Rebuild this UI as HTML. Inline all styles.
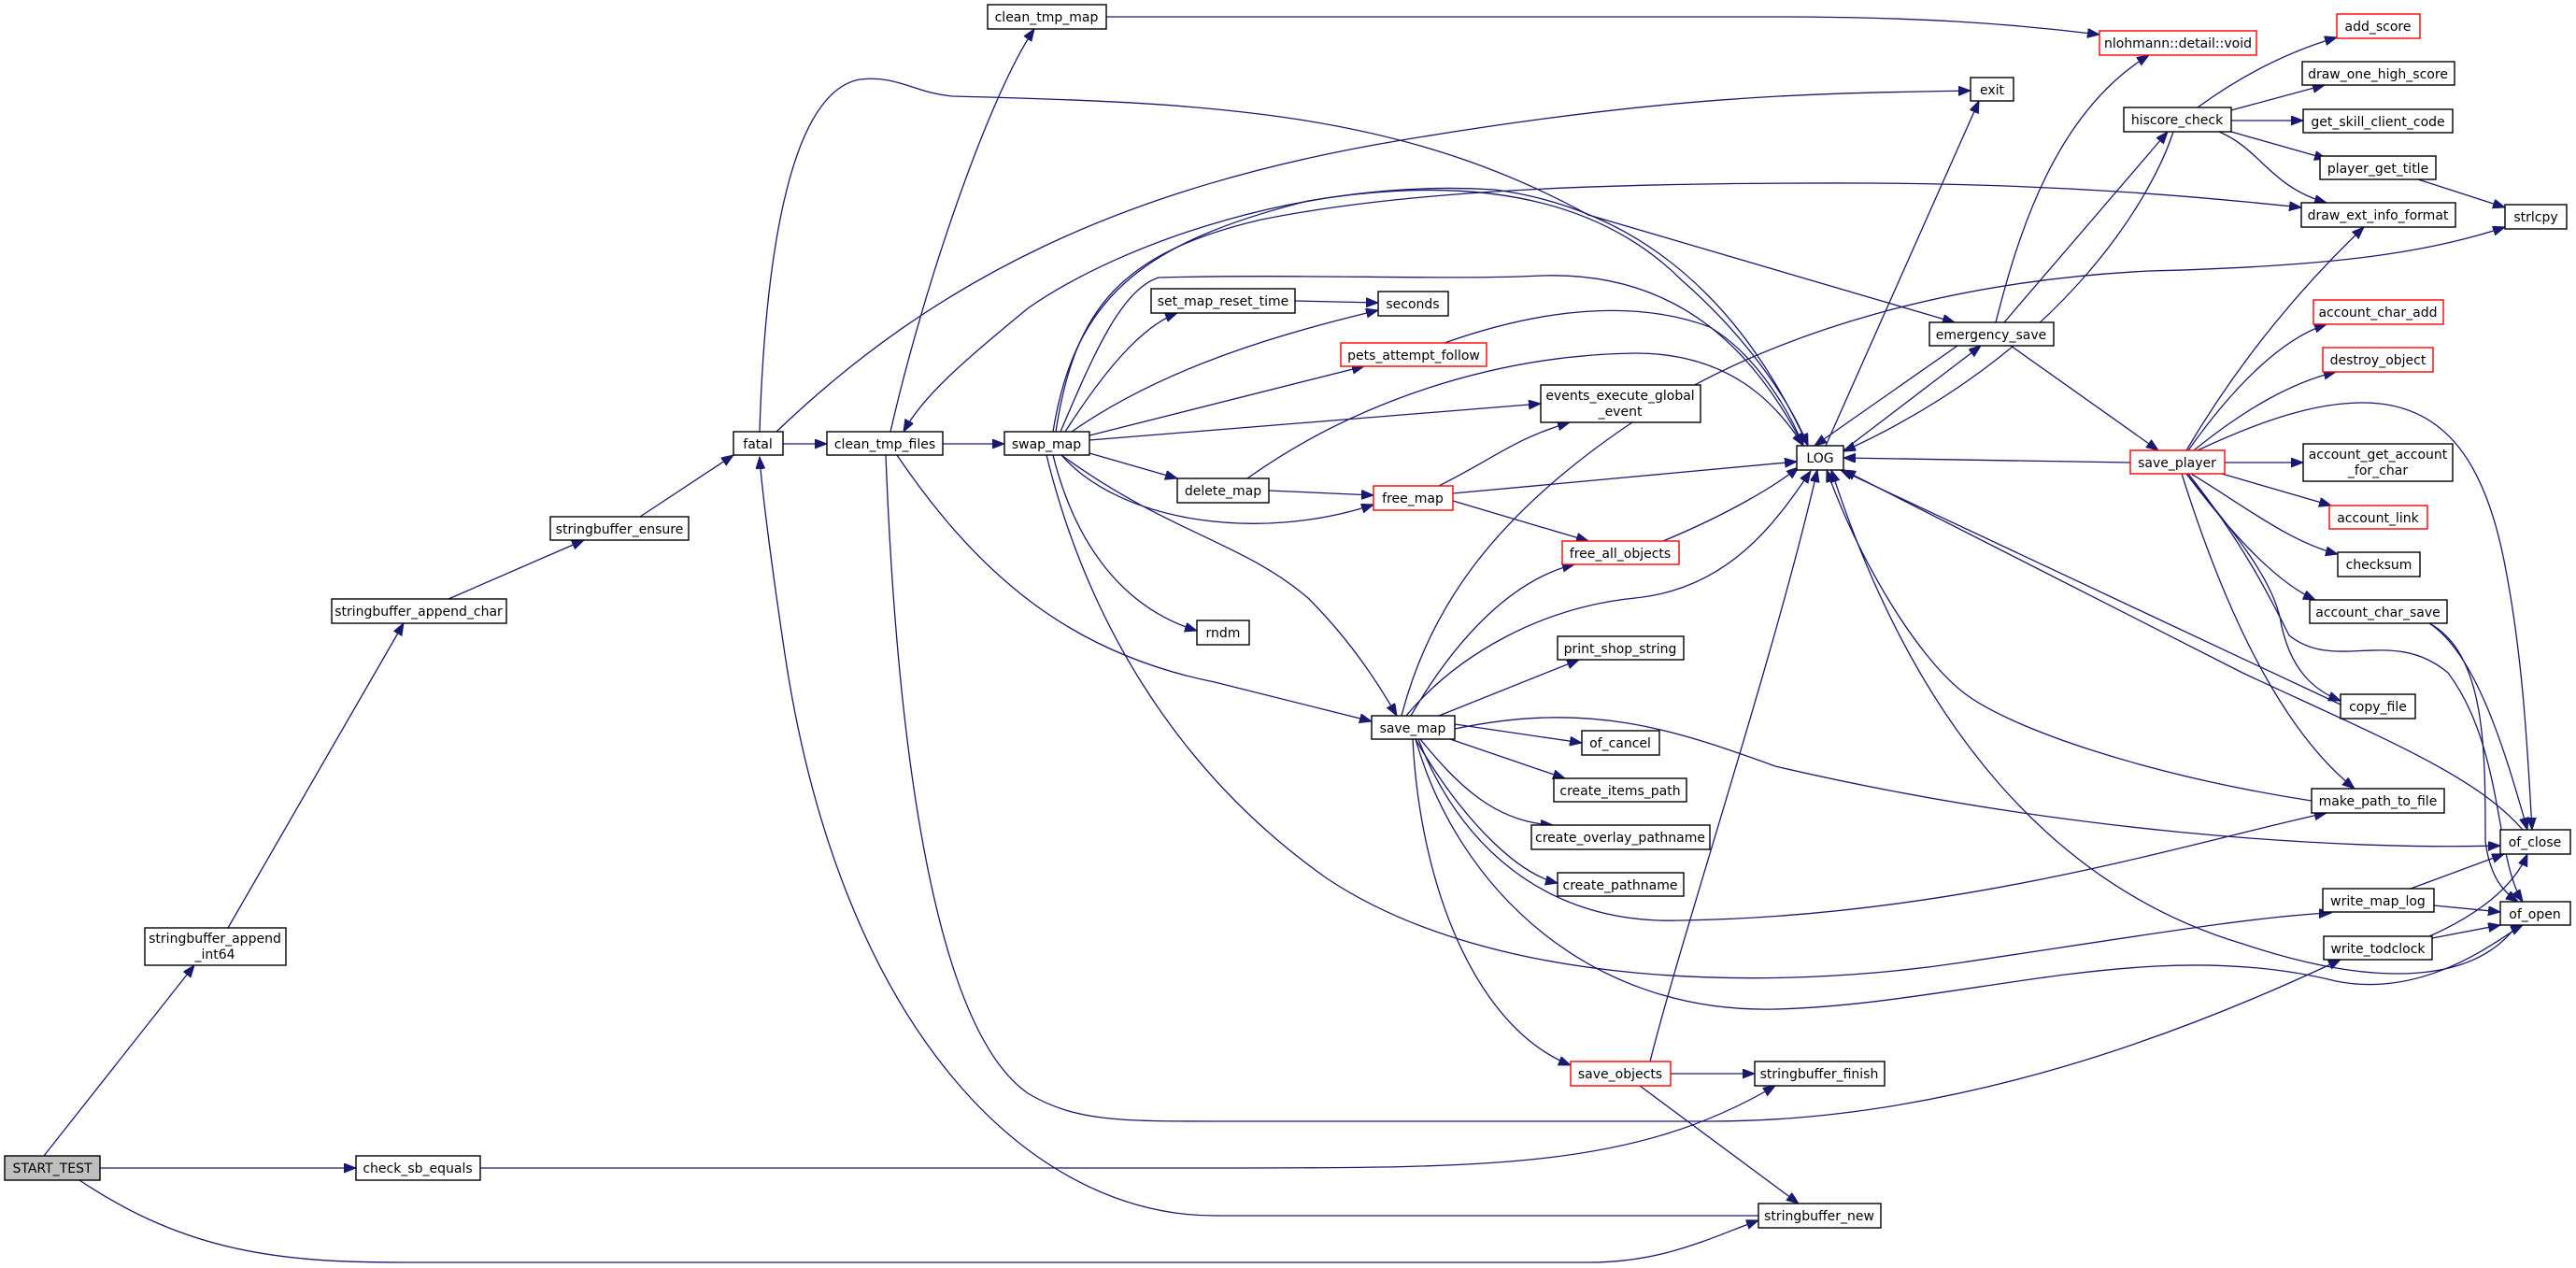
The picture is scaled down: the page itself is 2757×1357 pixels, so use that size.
<!DOCTYPE html>
<html><head><meta charset="utf-8"><style>
html,body{margin:0;padding:0;background:#fff;}
svg{display:block;}
text{font-family:"DejaVu Sans","Liberation Sans",sans-serif;font-size:14px;fill:#000;}
.n{fill:#fff;stroke:#000;stroke-width:1.4;}
.r{fill:#fff;stroke:#ff0000;stroke-width:1.4;}
.g{fill:#bfbfbf;stroke:#000;stroke-width:1.4;}
.e{fill:none;stroke:#191970;stroke-width:1.3;marker-end:url(#a);}
</style></head><body>
<svg width="2757" height="1357" viewBox="0 0 2757 1357" xmlns="http://www.w3.org/2000/svg">
<defs><marker id="a" markerUnits="userSpaceOnUse" markerWidth="14" markerHeight="12" refX="13" refY="5" orient="auto"><path d="M0,0 L13,5 L0,10 z" fill="#191970" stroke="#191970"/></marker></defs>
<g>
<path class="e" d="M47,1237 L208,1033"/>
<path class="e" d="M107,1250 L381,1250"/>
<path class="e" d="M85,1263 C200,1340 300,1351 430,1351 L1700,1351 C1780,1351 1830,1325 1882,1306"/>
<path class="e" d="M244,993 L432,667"/>
<path class="e" d="M480,641 L625,578"/>
<path class="e" d="M685,553 L785,487"/>
<path class="e" d="M838,475 L885,475"/>
<path class="e" d="M831,462 C1000,300 1200,200 1500,150 S1950,100 2109,97"/>
<path class="e" d="M813,462 C818,300 840,100 920,85 C960,80 980,100 1020,103 C1300,110 1500,120 1700,230 L2092,345"/>
<path class="e" d="M953,462 C990,300 1060,100 1107,31"/>
<path class="e" d="M1009,475 L1075,475"/>
<path class="e" d="M960,487 C1050,620 1150,700 1300,730 C1380,750 1430,762 1468,772"/>
<path class="e" d="M948,487 C960,800 1000,1100 1100,1170 C1150,1200 1200,1200 1300,1200 L1830,1200 C2100,1200 2350,1100 2505,1027"/>
<path class="e" d="M1882,1301 L1300,1301 C1100,1301 900,1100 840,700 C825,600 815,520 813,489"/>
<path class="e" d="M1184,18 L1900,18 C2050,18 2150,25 2247,37"/>
<path class="e" d="M1935,477 C1890,380 1800,230 1600,203 C1400,190 1200,260 1100,330 C1040,380 990,420 967,462"/>
<path class="e" d="M1130,462 C1150,330 1200,270 1350,235 C1500,205 1700,195 2000,196 C2200,197 2350,210 2463,222"/>
<path class="e" d="M1127,462 C1150,320 1220,260 1400,215 C1550,190 1700,200 1800,300 C1880,370 1920,440 1935,477"/>
<path class="e" d="M1135,462 C1170,380 1200,310 1240,297 C1400,293 1550,300 1650,295 C1800,290 1880,380 1930,477"/>
<path class="e" d="M1140,462 C1180,400 1220,350 1260,335"/>
<path class="e" d="M1147,462 C1250,390 1380,355 1475,332"/>
<path class="e" d="M1166,466 L1460,392"/>
<path class="e" d="M1166,471 L1649,432"/>
<path class="e" d="M1166,485 L1260,512"/>
<path class="e" d="M1136,487 C1200,560 1350,580 1470,540"/>
<path class="e" d="M1127,487 C1150,580 1200,650 1281,675"/>
<path class="e" d="M1136,487 C1250,570 1330,580 1400,640 C1450,690 1480,740 1495,766"/>
<path class="e" d="M1120,487 C1160,650 1250,820 1420,940 C1600,1060 1900,1060 2100,1030 C2300,1000 2420,980 2495,977"/>
<path class="e" d="M1335,512 C1450,430 1600,380 1750,378 C1850,378 1900,430 1930,477"/>
<path class="e" d="M1546,367 C1650,330 1750,320 1830,350 C1880,380 1915,440 1930,477"/>
<path class="e" d="M1555,528 L1923,494"/>
<path class="e" d="M1780,579 C1850,550 1900,520 1925,500"/>
<path class="e" d="M1505,766 C1560,700 1650,650 1750,640 C1850,630 1900,560 1938,504"/>
<path class="e" d="M1766,1136 C1800,1000 1900,700 1945,503"/>
<path class="e" d="M2474,857 C2300,830 2150,780 2100,740 C2050,700 1990,600 1955,503"/>
<path class="e" d="M2505,754 L1970,503"/>
<path class="e" d="M2095,370 L1942,477"/>
<path class="e" d="M2280,495 L1973,490"/>
<path class="e" d="M2326,141 C2300,220 2200,380 1973,483"/>
<path class="e" d="M2700,888 C2650,830 2550,790 2400,720 L1973,503"/>
<path class="e" d="M2694,990 C2650,1050 2550,1060 2400,1010 C2200,950 2050,780 1960,503"/>
<path class="e" d="M1973,482 L2120,370"/>
<path class="e" d="M1954,477 L2118,108"/>
<path class="e" d="M2145,345 L2320,141"/>
<path class="e" d="M2136,345 C2160,250 2200,120 2300,59"/>
<path class="e" d="M2152,370 L2310,482"/>
<path class="e" d="M1500,766 C1530,650 1600,550 1750,450 C1900,350 2100,300 2300,290 C2500,285 2600,270 2681,243"/>
<path class="e" d="M1540,766 L1690,706"/>
<path class="e" d="M1557,775 L1693,795"/>
<path class="e" d="M1552,791 L1675,833"/>
<path class="e" d="M1520,791 C1560,840 1600,880 1662,883"/>
<path class="e" d="M1515,791 C1560,870 1620,934 1667,945"/>
<path class="e" d="M1510,766 C1560,680 1620,620 1685,604"/>
<path class="e" d="M1512,791 C1520,950 1580,1100 1681,1140"/>
<path class="e" d="M1557,780 C1700,750 1790,780 1900,820 C2200,890 2500,910 2676,905"/>
<path class="e" d="M1518,791 C1560,900 1650,990 1800,985 C2100,980 2350,900 2490,870"/>
<path class="e" d="M1515,791 C1560,950 1700,1085 1900,1080 C2100,1075 2300,1000 2500,1050 C2600,1070 2680,1000 2700,990"/>
<path class="e" d="M1788,1149 L1878,1149"/>
<path class="e" d="M1755,1162 L1925,1288"/>
<path class="e" d="M514,1250 L1300,1250 C1600,1250 1750,1250 1900,1162"/>
<path class="e" d="M2352,115 C2400,80 2450,55 2501,40"/>
<path class="e" d="M2388,118 L2488,91"/>
<path class="e" d="M2388,129 L2465,129"/>
<path class="e" d="M2388,141 L2490,170"/>
<path class="e" d="M2375,141 C2420,160 2430,200 2490,217"/>
<path class="e" d="M2588,192 L2681,222"/>
<path class="e" d="M2340,482 C2400,380 2470,300 2530,243"/>
<path class="e" d="M2342,482 C2400,400 2450,360 2490,347"/>
<path class="e" d="M2348,482 C2400,440 2450,410 2500,398"/>
<path class="e" d="M2352,482 C2420,450 2480,430 2531,431 C2620,432 2660,500 2680,600 C2700,700 2705,800 2710,888"/>
<path class="e" d="M2381,495 L2465,495"/>
<path class="e" d="M2378,507 L2495,541"/>
<path class="e" d="M2345,507 C2400,540 2450,580 2502,593"/>
<path class="e" d="M2340,507 C2380,560 2430,620 2478,642"/>
<path class="e" d="M2340,507 C2400,580 2430,620 2440,660 C2450,720 2480,740 2505,750"/>
<path class="e" d="M2335,507 C2380,650 2440,780 2520,844"/>
<path class="e" d="M2342,507 C2400,580 2430,640 2450,680 C2500,720 2560,670 2620,720 C2680,800 2670,920 2700,965"/>
<path class="e" d="M2600,667 C2650,700 2680,800 2705,888"/>
<path class="e" d="M2600,667 C2660,700 2660,800 2660,900 C2665,940 2680,955 2695,965"/>
<path class="e" d="M2580,951 L2680,914"/>
<path class="e" d="M2605,969 L2676,976"/>
<path class="e" d="M2600,1002 C2650,980 2690,950 2705,914"/>
<path class="e" d="M2603,1004 L2676,990"/>
<path class="e" d="M1540,520 C1600,490 1620,470 1680,452"/>
<path class="e" d="M1555,536 L1700,579"/>
<path class="e" d="M1358,525 L1470,530"/>
<path class="e" d="M1386,322 L1475,324"/>
</g>
<g>
<rect class="g" x="5" y="1237" width="102" height="26"/><text x="56" y="1255" text-anchor="middle">START_TEST</text>
<rect class="n" x="155" y="993" width="151" height="40"/><text x="230" y="1009" text-anchor="middle">stringbuffer_append</text><text x="230" y="1026" text-anchor="middle">_int64</text>
<rect class="n" x="381" y="1237" width="133" height="26"/><text x="447" y="1255" text-anchor="middle">check_sb_equals</text>
<rect class="n" x="355" y="641" width="187" height="26"/><text x="448" y="659" text-anchor="middle">stringbuffer_append_char</text>
<rect class="n" x="589" y="553" width="148" height="25"/><text x="663" y="571" text-anchor="middle">stringbuffer_ensure</text>
<rect class="n" x="785" y="462" width="53" height="25"/><text x="811" y="480" text-anchor="middle">fatal</text>
<rect class="n" x="885" y="462" width="124" height="25"/><text x="947" y="480" text-anchor="middle">clean_tmp_files</text>
<rect class="n" x="1057" y="5" width="127" height="26"/><text x="1120" y="23" text-anchor="middle">clean_tmp_map</text>
<rect class="n" x="1075" y="462" width="91" height="25"/><text x="1120" y="480" text-anchor="middle">swap_map</text>
<rect class="n" x="1232" y="309" width="154" height="26"/><text x="1309" y="327" text-anchor="middle">set_map_reset_time</text>
<rect class="n" x="1475" y="312" width="75" height="26"/><text x="1512" y="330" text-anchor="middle">seconds</text>
<rect class="r" x="1435" y="367" width="156" height="25"/><text x="1513" y="385" text-anchor="middle">pets_attempt_follow</text>
<rect class="n" x="1649" y="412" width="171" height="40"/><text x="1734" y="428" text-anchor="middle">events_execute_global</text><text x="1734" y="445" text-anchor="middle">_event</text>
<rect class="n" x="1260" y="512" width="98" height="26"/><text x="1309" y="530" text-anchor="middle">delete_map</text>
<rect class="r" x="1470" y="520" width="85" height="26"/><text x="1512" y="538" text-anchor="middle">free_map</text>
<rect class="r" x="1672" y="579" width="125" height="25"/><text x="1734" y="597" text-anchor="middle">free_all_objects</text>
<rect class="n" x="1281" y="664" width="56" height="26"/><text x="1309" y="682" text-anchor="middle">rndm</text>
<rect class="n" x="1667" y="681" width="135" height="25"/><text x="1734" y="699" text-anchor="middle">print_shop_string</text>
<rect class="n" x="1468" y="766" width="89" height="25"/><text x="1512" y="784" text-anchor="middle">save_map</text>
<rect class="n" x="1693" y="782" width="83" height="26"/><text x="1734" y="800" text-anchor="middle">of_cancel</text>
<rect class="n" x="1663" y="833" width="142" height="25"/><text x="1734" y="851" text-anchor="middle">create_items_path</text>
<rect class="n" x="1639" y="883" width="191" height="26"/><text x="1734" y="901" text-anchor="middle">create_overlay_pathname</text>
<rect class="n" x="1667" y="934" width="135" height="25"/><text x="1734" y="952" text-anchor="middle">create_pathname</text>
<rect class="r" x="1681" y="1136" width="107" height="26"/><text x="1734" y="1154" text-anchor="middle">save_objects</text>
<rect class="n" x="1878" y="1136" width="139" height="26"/><text x="1947" y="1154" text-anchor="middle">stringbuffer_finish</text>
<rect class="n" x="1882" y="1288" width="131" height="26"/><text x="1947" y="1306" text-anchor="middle">stringbuffer_new</text>
<rect class="n" x="1923" y="477" width="50" height="26"/><text x="1948" y="495" text-anchor="middle">LOG</text>
<rect class="n" x="2109" y="83" width="46" height="25"/><text x="2132" y="101" text-anchor="middle">exit</text>
<rect class="r" x="2247" y="33" width="168" height="26"/><text x="2331" y="51" text-anchor="middle">nlohmann::detail::void</text>
<rect class="n" x="2065" y="345" width="133" height="25"/><text x="2131" y="363" text-anchor="middle">emergency_save</text>
<rect class="n" x="2273" y="115" width="115" height="26"/><text x="2330" y="133" text-anchor="middle">hiscore_check</text>
<rect class="r" x="2501" y="15" width="89" height="26"/><text x="2545" y="33" text-anchor="middle">add_score</text>
<rect class="n" x="2464" y="66" width="163" height="25"/><text x="2545" y="84" text-anchor="middle">draw_one_high_score</text>
<rect class="n" x="2465" y="117" width="160" height="25"/><text x="2545" y="135" text-anchor="middle">get_skill_client_code</text>
<rect class="n" x="2483" y="167" width="124" height="25"/><text x="2545" y="185" text-anchor="middle">player_get_title</text>
<rect class="n" x="2463" y="217" width="165" height="26"/><text x="2545" y="235" text-anchor="middle">draw_ext_info_format</text>
<rect class="n" x="2681" y="219" width="66" height="26"/><text x="2714" y="237" text-anchor="middle">strlcpy</text>
<rect class="r" x="2476" y="321" width="139" height="26"/><text x="2545" y="339" text-anchor="middle">account_char_add</text>
<rect class="r" x="2486" y="372" width="118" height="26"/><text x="2545" y="390" text-anchor="middle">destroy_object</text>
<rect class="r" x="2280" y="482" width="101" height="25"/><text x="2330" y="500" text-anchor="middle">save_player</text>
<rect class="n" x="2465" y="475" width="160" height="40"/><text x="2545" y="491" text-anchor="middle">account_get_account</text><text x="2545" y="508" text-anchor="middle">_for_char</text>
<rect class="r" x="2493" y="541" width="105" height="25"/><text x="2545" y="559" text-anchor="middle">account_link</text>
<rect class="n" x="2502" y="591" width="88" height="26"/><text x="2546" y="609" text-anchor="middle">checksum</text>
<rect class="n" x="2472" y="642" width="147" height="25"/><text x="2545" y="660" text-anchor="middle">account_char_save</text>
<rect class="n" x="2505" y="743" width="80" height="26"/><text x="2545" y="761" text-anchor="middle">copy_file</text>
<rect class="n" x="2474" y="844" width="142" height="26"/><text x="2545" y="862" text-anchor="middle">make_path_to_file</text>
<rect class="n" x="2676" y="888" width="75" height="26"/><text x="2713" y="906" text-anchor="middle">of_close</text>
<rect class="n" x="2486" y="951" width="119" height="25"/><text x="2545" y="969" text-anchor="middle">write_map_log</text>
<rect class="n" x="2676" y="965" width="75" height="25"/><text x="2713" y="983" text-anchor="middle">of_open</text>
<rect class="n" x="2487" y="1002" width="116" height="25"/><text x="2545" y="1020" text-anchor="middle">write_todclock</text>
</g>
</svg>
</body></html>
